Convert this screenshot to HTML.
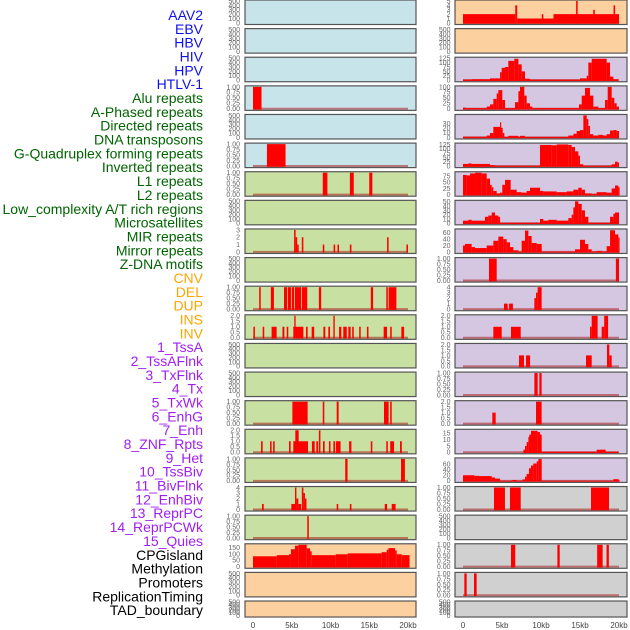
<!DOCTYPE html>
<html><head><meta charset="utf-8"><style>
html,body{margin:0;padding:0;background:#fff;}
svg{display:block;font-family:"Liberation Sans",sans-serif;}
</style></head><body>
<svg id="chart" width="630" height="630" viewBox="0 0 630 630" xmlns="http://www.w3.org/2000/svg"></svg>
<script>
const labels = ["AAV2","EBV","HBV","HIV","HPV","HTLV-1","Alu repeats","A-Phased repeats","Directed repeats","DNA transposons","G-Quadruplex forming repeats","Inverted repeats","L1 repeats","L2 repeats","Low_complexity A/T rich regions","Microsatellites","MIR repeats","Mirror repeats","Z-DNA motifs","CNV","DEL","DUP","INS","INV","1_TssA","2_TssAFlnk","3_TxFlnk","4_Tx","5_TxWk","6_EnhG","7_Enh","8_ZNF_Rpts","9_Het","10_TssBiv","11_BivFlnk","12_EnhBiv","13_ReprPC","14_ReprPCWk","15_Quies","CPGisland","Methylation","Promoters","ReplicationTiming","TAD_boundary"];
const labelColors = ["#1010ee","#1010ee","#1010ee","#1010ee","#1010ee","#1010ee","#006400","#006400","#006400","#006400","#006400","#006400","#006400","#006400","#006400","#006400","#006400","#006400","#006400","#ffa500","#ffa500","#ffa500","#ffa500","#ffa500","#a020f0","#a020f0","#a020f0","#a020f0","#a020f0","#a020f0","#a020f0","#a020f0","#a020f0","#a020f0","#a020f0","#a020f0","#a020f0","#a020f0","#a020f0","#000","#000","#000","#000","#000"];
const xTicks = [0,5,10,15,20];
const xTickLabels = ["0","5kb","10kb","15kb","20kb"];
const ticksEmpty = ["0","100","200","300","400","500"];
const ticks01 = ["0.00","0.25","0.50","0.75","1.00"];
const ticks02 = ["0.0","0.5","1.0","1.5","2.0"];

const leftR3 = [[0,1.1,1]];
const leftR5 = [[1.8,4.2,1]];
const leftR6 = [[9.0,9.6,1],[12.5,13.0,1],[15.0,15.4,1]];
const leftR8 = [[5.3,5.5,3],[5.5,5.7,2],[5.7,5.9,1],[6.3,6.5,2],[9.0,9.2,1],[10.4,10.6,1],[10.9,11.1,1],[12.5,12.7,1],[17.3,17.5,2],[19.8,20.0,1]];
const leftR10 = [[0.8,1.0,1],[2.3,2.7,1],[4.0,4.4,1],[4.5,4.9,1],[5.0,5.3,1],[5.4,6.2,1],[6.3,7.0,1],[8.5,8.8,1],[15.2,15.5,1],[17.2,17.4,1],[17.5,18.5,1]];
const leftR11 = [[0.05,0.25,1],[1.25,1.45,1],[2.4,3.05,1],[3.8,4.05,1],[4.35,4.55,1],[5.2,6.5,1],[5.33,5.5,2],[6.84,7.05,1],[7.57,7.9,1],[9.08,9.33,1],[9.72,9.94,1],[10.37,10.55,2],[11.1,11.4,1],[11.65,12.1,1],[12.3,12.6,1],[12.8,13.0,1],[13.7,13.9,1],[14.7,14.9,1],[16.86,17.3,1],[17.7,17.9,1],[19.14,19.5,1]];
const leftR14 = [[5.08,7.05,1],[9.0,9.2,1],[10.8,11.05,1],[16.9,17.5,1],[17.7,17.9,1]];
const leftR15 = [[1.04,1.25,1],[2.2,2.4,1],[2.6,2.8,1],[4.65,4.86,1],[5.2,7.1,1],[5.46,5.89,2],[7.6,7.96,1],[8.17,8.4,1],[8.5,8.7,2],[9.03,9.25,1],[9.8,10.0,1],[10.37,10.58,1],[10.7,11.3,1],[12.4,12.7,1],[15.2,15.4,1],[17.2,17.4,1],[17.7,18.2,1],[18.97,19.2,1]];
const leftR16 = [[11.9,12.2,1],[19.1,19.6,1]];
const leftR17 = [[1.16,1.38,1],[4.95,5.42,1],[5.42,5.6,4],[5.6,5.85,2],[5.85,6.2,1],[6.3,6.5,4],[6.5,6.7,3],[6.7,6.9,2],[10.8,11.0,1],[12.5,12.7,1],[17.0,17.3,1],[17.9,18.4,1]];
const leftR18 = [[7.0,7.2,1]];
const leftR19 = [[0,3.06,81],[3.06,4.65,90],[4.65,4.9,97],[4.9,5.42,136],[5.42,5.85,164],[5.85,6.93,171],[6.93,7.36,143],[7.36,7.57,120],[7.57,10.67,90],[10.67,12.22,97],[12.22,16.6,104],[16.6,17.25,113],[17.25,17.47,132],[17.47,18.33,145],[18.33,18.54,127],[18.54,19.19,97],[19.19,20.2,90]];

const rightR0 = [[0,6.7,2],[6.7,6.95,4],[6.95,11.6,1],[10.1,10.3,2],[11.6,20,2],[14.5,14.7,5],[16.7,16.9,3],[19.3,19.5,4]];
const rightR2 = [[0,1.11,3],[1.11,3.46,5],[3.46,4.75,10],[4.75,4.96,45],[4.96,5.39,70],[5.39,5.81,75],[5.81,6.58,110],[6.58,7.1,122],[7.1,7.52,90],[7.52,7.95,50],[7.95,8.59,8],[8.59,15.0,3],[15.0,15.86,10],[15.86,16.07,25],[16.07,16.5,100],[16.5,18.42,122],[18.42,18.85,100],[18.85,19.28,20],[19.28,19.92,5]];
const rightR3 = [[0,0.35,5],[0.35,3.04,3],[3.04,3.46,10],[3.46,3.89,20],[3.89,4.32,45],[4.32,4.53,70],[4.53,5.04,85],[5.04,5.39,40],[5.39,6.67,3],[6.67,7.1,30],[7.1,7.31,80],[7.31,7.86,100],[7.86,8.16,60],[8.16,8.59,25],[8.59,8.89,10],[8.89,14.87,3],[14.87,15.22,20],[15.22,15.64,60],[15.64,16.28,95],[16.28,16.71,60],[16.71,17.35,10],[17.35,18.21,3],[18.21,18.55,40],[18.55,19.06,100],[19.06,19.4,50],[19.4,19.7,25],[19.7,20,10]];
const rightR4 = [[0,3.04,1.4],[3.04,3.46,4],[3.46,3.89,9.5],[3.89,4.75,23],[4.75,4.87,33],[4.87,5.09,21],[5.09,5.3,9.5],[5.3,5.81,1],[5.81,7.1,3.4],[7.1,7.31,1],[7.31,7.95,3.4],[7.95,13.5,1],[13.5,14.15,4],[14.15,14.57,8],[14.57,15.0,14],[15.0,15.43,16],[15.43,15.86,48],[15.86,16.07,40],[16.07,16.28,25],[16.28,16.71,7],[16.71,17.35,4],[17.35,17.99,5.5],[17.99,18.42,4],[18.42,18.85,7],[18.85,19.28,15],[19.28,19.7,16],[19.7,20,14]];
const rightR5 = [[0,0.69,12],[0.69,1.11,15],[1.11,3.46,12],[3.46,4.1,5],[4.1,9.87,1],[9.87,11.37,122],[11.37,12.01,120],[12.01,13.5,125],[13.5,13.93,122],[13.93,14.36,110],[14.36,14.79,85],[14.79,15.0,60],[15.0,15.43,10],[15.43,19.06,1],[19.06,19.49,10],[19.49,19.83,25],[19.83,20,20]];
const rightR6 = [[0,0.47,80],[0.47,0.9,78],[0.9,1.54,86],[1.54,2.39,89],[2.39,3.04,86],[3.04,3.46,65],[3.46,3.68,40],[3.68,3.89,30],[3.89,4.32,15],[4.32,4.75,5],[4.75,5.04,8],[5.04,5.39,40],[5.39,6.11,60],[6.11,6.88,20],[6.88,7.52,10],[7.52,8.16,8],[8.16,8.59,15],[8.59,9.87,28],[9.87,10.3,15],[10.3,12.01,13],[12.01,13.29,10],[13.29,14.15,13],[14.15,14.79,20],[14.79,15.22,28],[15.22,15.64,20],[15.64,16.5,5],[16.5,17.14,3],[17.14,18.42,10],[18.42,19.06,8],[19.06,19.49,25],[19.49,19.92,37],[19.92,20,30]];
const rightR7 = [[0,0.69,6],[0.69,1.11,8],[1.11,2.82,6],[2.82,3.25,15],[3.25,3.68,18],[3.68,4.1,25],[4.1,4.53,18],[4.53,4.75,15],[4.75,9.87,1],[9.87,10.3,10],[10.3,10.94,6],[10.94,12.01,8],[12.01,13.5,6],[13.5,13.93,12],[13.93,14.15,20],[14.15,14.36,37],[14.36,14.79,51],[14.79,15.22,45],[15.22,15.64,30],[15.64,16.07,15],[16.07,18.85,1],[18.85,19.28,15],[19.28,19.49,22],[19.49,20,25]];
const rightR8 = [[0,0.26,20],[0.26,1.11,25],[1.11,1.54,15],[1.54,3.04,12],[3.04,3.89,20],[3.89,4.53,35],[4.53,5.17,48],[5.17,5.6,40],[5.6,6.03,30],[6.03,6.46,15],[6.46,7.1,5],[7.1,7.52,1],[7.52,7.95,35],[7.95,8.38,67],[8.38,8.8,50],[8.8,9.45,28],[9.45,10.09,25],[10.09,14.36,1],[14.36,15.0,8],[15.0,15.64,38],[15.64,16.07,25],[16.07,16.5,8],[16.5,17.14,1],[17.14,17.78,3],[17.78,18.42,1],[18.42,18.85,18],[18.85,19.49,68],[19.49,19.92,55],[19.92,20,45]];
const rightR9 = [[3.33,4.32,1],[19.6,20.0,1]];
const rightR10 = [[5.25,5.73,1],[5.9,6.4,1],[9.15,9.36,2],[9.36,9.57,3],[9.57,10.08,4]];
const rightR11 = [[3.89,4.96,1],[6.15,7.4,1],[16.28,16.5,1],[16.5,17.26,2],[17.78,18.1,1],[18.1,18.6,2]];
const rightR12 = [[7.18,7.82,1],[8.08,8.6,1],[15.77,16.5,1],[18.46,18.76,2],[18.76,19.06,1]];
const rightR13 = [[9.15,9.57,1],[9.79,10.08,1]];
const rightR14 = [[3.76,4.19,1],[9.36,10.08,2]];
const rightR15 = [[7.74,7.95,2],[7.95,8.16,5],[8.16,8.38,8],[8.38,8.5,12],[8.5,8.72,14],[8.72,9.57,17],[9.57,9.87,16],[9.87,10.09,14],[10.09,17.14,0.4],[17.14,18.29,2],[18.29,19.92,0.4]];
const rightR16 = [[0,1.45,20],[1.45,2.05,18],[2.05,3.68,17],[3.68,4.1,12],[4.1,4.75,8],[4.75,6.33,0.5],[6.33,6.88,3],[6.88,7.61,0.5],[7.61,7.95,5],[7.95,8.16,15],[8.16,8.46,25],[8.46,8.72,45],[8.72,9.02,55],[9.02,9.45,62],[9.45,9.66,70],[9.66,10.09,78],[10.09,19.28,0.5],[19.28,19.92,6],[19.92,20,4]];
const rightR17 = [[3.97,5.38,1],[6.02,7.4,1],[16.41,18.72,1]];
const rightR19 = [[6.15,6.7,1],[12.1,12.4,1],[17.2,17.9,1],[18.4,18.7,1]];
const rightR20 = [[0.17,0.47,1],[1.41,1.75,1]];

const BG_BLUE="#c8e4eb", BG_GREEN="#c8e0a1", BG_PEACH="#fdd09f", BG_LAV="#d5c7e1", BG_GRAY="#d0d0d0";
const panels = [
 {col:0,row:0,bg:BG_BLUE,ticks:ticksEmpty,top:500,data:null},
 {col:0,row:1,bg:BG_BLUE,ticks:ticksEmpty,top:500,data:null},
 {col:0,row:2,bg:BG_BLUE,ticks:ticksEmpty,top:500,data:null},
 {col:0,row:3,bg:BG_BLUE,ticks:ticks01,top:1,data:leftR3},
 {col:0,row:4,bg:BG_BLUE,ticks:ticksEmpty,top:500,data:null},
 {col:0,row:5,bg:BG_BLUE,ticks:ticks01,top:1,data:leftR5},
 {col:0,row:6,bg:BG_GREEN,ticks:ticks01,top:1,data:leftR6},
 {col:0,row:7,bg:BG_GREEN,ticks:ticksEmpty,top:500,data:null},
 {col:0,row:8,bg:BG_GREEN,ticks:["0","1","2","3"],top:3,data:leftR8},
 {col:0,row:9,bg:BG_GREEN,ticks:ticksEmpty,top:500,data:null},
 {col:0,row:10,bg:BG_GREEN,ticks:ticks01,top:1,data:leftR10},
 {col:0,row:11,bg:BG_GREEN,ticks:ticks02,top:2,data:leftR11},
 {col:0,row:12,bg:BG_GREEN,ticks:ticksEmpty,top:500,data:null},
 {col:0,row:13,bg:BG_GREEN,ticks:ticksEmpty,top:500,data:null},
 {col:0,row:14,bg:BG_GREEN,ticks:ticks01,top:1,data:leftR14},
 {col:0,row:15,bg:BG_GREEN,ticks:ticks02,top:2,data:leftR15},
 {col:0,row:16,bg:BG_GREEN,ticks:ticks01,top:1,data:leftR16},
 {col:0,row:17,bg:BG_GREEN,ticks:["0","1","2","3","4"],top:4,data:leftR17},
 {col:0,row:18,bg:BG_GREEN,ticks:ticks01,top:1,data:leftR18},
 {col:0,row:19,bg:BG_PEACH,ticks:["0","50","100","150"],top:171,data:leftR19},
 {col:0,row:20,bg:BG_PEACH,ticks:ticksEmpty,top:500,data:null},
 {col:0,row:21,bg:BG_PEACH,ticks:ticksEmpty,top:500,data:null},
 {col:1,row:0,bg:BG_PEACH,ticks:["0","1","2","3","4","5"],top:5,data:rightR0},
 {col:1,row:1,bg:BG_PEACH,ticks:ticksEmpty,top:500,data:null},
 {col:1,row:2,bg:BG_LAV,ticks:["0","25","50","75","100","125"],top:125,data:rightR2},
 {col:1,row:3,bg:BG_LAV,ticks:["0","25","50","75","100"],top:100,data:rightR3},
 {col:1,row:4,bg:BG_LAV,ticks:["0","10","20","30"],top:48,data:rightR4},
 {col:1,row:5,bg:BG_LAV,ticks:["0","25","50","75","100","125"],top:127,data:rightR5},
 {col:1,row:6,bg:BG_LAV,ticks:["0","25","50","75"],top:89,data:rightR6},
 {col:1,row:7,bg:BG_LAV,ticks:["0","10","20","30","40","50"],top:51,data:rightR7},
 {col:1,row:8,bg:BG_LAV,ticks:["0","20","40","60"],top:69,data:rightR8},
 {col:1,row:9,bg:BG_LAV,ticks:ticks01,top:1,data:rightR9},
 {col:1,row:10,bg:BG_LAV,ticks:["0","1","2","3","4"],top:4,data:rightR10},
 {col:1,row:11,bg:BG_LAV,ticks:ticks02,top:2,data:rightR11},
 {col:1,row:12,bg:BG_LAV,ticks:ticks02,top:2,data:rightR12},
 {col:1,row:13,bg:BG_LAV,ticks:ticks01,top:1,data:rightR13},
 {col:1,row:14,bg:BG_LAV,ticks:ticks02,top:2,data:rightR14},
 {col:1,row:15,bg:BG_LAV,ticks:["0","5","10","15"],top:17.4,data:rightR15},
 {col:1,row:16,bg:BG_LAV,ticks:["0","20","40","60"],top:78.5,data:rightR16},
 {col:1,row:17,bg:BG_GRAY,ticks:ticks01,top:1,data:rightR17},
 {col:1,row:18,bg:BG_GRAY,ticks:ticksEmpty,top:500,data:null},
 {col:1,row:19,bg:BG_GRAY,ticks:ticks01,top:1,data:rightR19},
 {col:1,row:20,bg:BG_GRAY,ticks:ticks01,top:1,data:rightR20},
 {col:1,row:21,bg:BG_GRAY,ticks:ticksEmpty,top:500,data:null}
];

const NS="http://www.w3.org/2000/svg";
const svg=document.getElementById('chart');
function mk(tag,attrs,parent){const e=document.createElementNS(NS,tag);for(const k in attrs)e.setAttribute(k,attrs[k]);(parent||svg).appendChild(e);return e;}
const colGeom=[{left:245,right:416,x0:253,x20:408,tickX:240},{left:455,right:627,x0:463,x20:619,tickX:450.5}];
function xScale(col,kb){const g=colGeom[col];return g.x0+(g.x20-g.x0)*kb/20;}
function rowTop(r){return r*28.62;}
function rowH(r){return r===21?16:24.5;}

labels.forEach((t,i)=>{
  const el=mk('text',{x:203,y:20+i*13.84,'text-anchor':'end','font-size':14,fill:labelColors[i]});
  el.textContent=t;
  
  
});

panels.forEach(p=>{
  const g=colGeom[p.col];
  const top=rowTop(p.row), h=rowH(p.row);
  const grp=mk('g',{});
  
  
  const bg=mk('rect',{x:g.left,y:top,width:g.right-g.left,height:h,fill:p.bg},grp);
  
  
  const y0=top+h-1.6, span=h-2.6;
  const yS=v=>y0-v/p.top*span;
  p.ticks.forEach(t=>{
    const el=mk('text',{x:g.tickX,y:yS(parseFloat(t))+2.4,'text-anchor':'end','font-size':7,fill:'#666'},grp);
    el.textContent=t;
    
    
  });
  if(p.data){
    const base=mk('line',{x1:xScale(p.col,0),x2:xScale(p.col,20),y1:y0,y2:y0,stroke:'rgba(170,30,30,0.55)','stroke-width':2},grp);
    
    
    p.data.forEach(d=>{
      const x1=xScale(p.col,d[0]), x2=xScale(p.col,d[1]);
      const yv=Math.max(top+0.5,yS(d[2]));
      const b=mk('rect',{x:x1,y:yv,width:Math.max(1.2,x2-x1),height:y0-yv+0.8,fill:'#ff0000'},grp);
      
      
    });
  }
  const border=mk('rect',{x:g.left,y:top,width:g.right-g.left,height:h,fill:'none',stroke:'#555','stroke-width':1.2},grp);
  
  
});

[0,1].forEach(col=>{
  xTicks.forEach((v,i)=>{
    const el=mk('text',{x:xScale(col,v),y:628,'text-anchor':'middle','font-size':8,fill:'#444'});
    el.textContent=xTickLabels[i];
    
    
  });
});
</script>
</body></html>
